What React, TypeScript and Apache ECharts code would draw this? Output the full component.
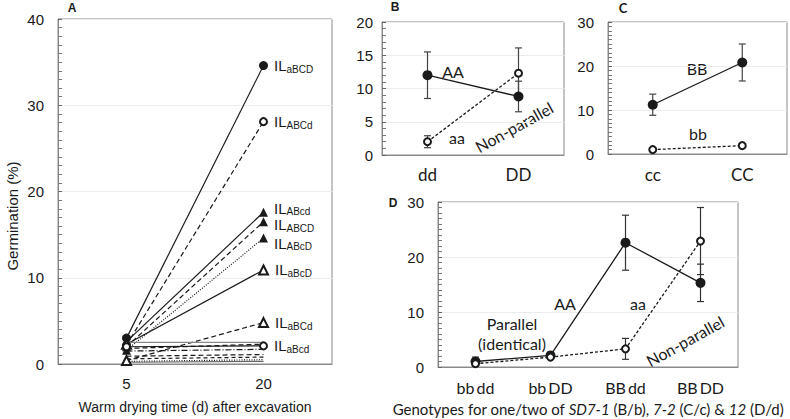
import React, { useEffect, useRef } from 'react';
import * as echarts from 'echarts';

// ---------- Panel A data (germination % at 5 and 20 d) ----------
const A_CATEGORIES = ['5', '20'];
const A_aBCD = [3.0, 34.6];
const A_ABCd = [2.2, 28.1];
const A_ABcd = [2.6, 17.6];
const A_ABCD = [2.0, 16.5];
const A_ABcD = [1.6, 14.6];
const A_aBcD = [2.3, 10.9];
const A_aBCd = [0.4, 4.8];
const A_aBcd = [2.0, 2.1];
const A_OTHER_1 = [2.5, 2.5];
const A_OTHER_2 = [1.8, 2.3];
const A_OTHER_3 = [1.5, 1.7];
const A_OTHER_4 = [0.9, 1.1];
const A_OTHER_5 = [0.6, 0.8];
const A_OTHER_6 = [0.3, 0.5];
const A_OTHER_7 = [0.2, 0.3];

// ---------- Panel B ----------
const B_CATEGORIES = ['dd', 'DD'];
const B_AA = [12.0, 8.8];
const B_AA_ERR = [3.5, 2.3];
const B_aa = [2.0, 12.3];
const B_aa_ERR = [0.9, 3.8];

// ---------- Panel C ----------
const C_CATEGORIES = ['cc', 'CC'];
const C_BB = [11.2, 20.8];
const C_BB_ERR = [2.4, 4.2];
const C_bb = [1.0, 1.9];
const C_bb_ERR = [0.2, 0.2];

// ---------- Panel D ----------
const D_CATEGORIES = ['bb dd', 'bb DD', 'BB dd', 'BB DD'];
const D_AA = [1.0, 2.1, 22.6, 15.3];
const D_AA_ERR = [0.8, 0.4, 5.0, 3.4];
const D_aa = [0.6, 1.8, 3.3, 22.9];
const D_aa_ERR = [0.3, 0.3, 1.9, 6.1];

const ARIAL = 'Liberation Sans, Arial, sans-serif';
const CAL = 'Lato, Open Sans, sans-serif';
const INK = '#1a1a1a';
const BORDER = '#8a8a8a';

const A_LINES: any[] = [
  { label: 'aBCD', data: A_aBCD, type: 'solid', symbol: 'circle', open: false, size: 9 },
  { label: 'ABCd', data: A_ABCd, type: [5, 3], symbol: 'circle', open: true, size: 7 },
  { label: 'ABcd', data: A_ABcd, type: 'solid', symbol: 'triangle', open: false, size: 9, dy: -4 },
  { label: 'ABCD', data: A_ABCD, type: [5, 3], symbol: 'triangle', open: false, size: 9, dy: 3 },
  { label: 'ABcD', data: A_ABcD, type: [1, 1.5], symbol: 'triangle', open: false, size: 9, dy: 5 },
  { label: 'aBcD', data: A_aBcD, type: 'solid', symbol: 'triangle', open: true, size: 9 },
  { label: 'aBCd', data: A_aBCd, type: [5, 3], symbol: 'triangle', open: true, size: 9 },
  { label: 'aBcd', data: A_aBcd, type: 'solid', symbol: 'circle', open: true, size: 7 },
  { label: null, data: A_OTHER_1, type: 'solid', color: '#888' },
  { label: null, data: A_OTHER_2, type: [5, 3] },
  { label: null, data: A_OTHER_3, type: [6, 2, 1, 2] },
  { label: null, data: A_OTHER_4, type: [5, 3] },
  { label: null, data: A_OTHER_5, type: [4, 3] },
  { label: null, data: A_OTHER_6, type: [1, 1.5] },
  { label: null, data: A_OTHER_7, type: 'solid', color: '#666' },
];

function yAxisCfg(idx: number, max: number, interval: number, minorSplit: number, margin: number, fontSize: number) {
  return {
    type: 'value', gridIndex: idx, min: 0, max, interval,
    axisLine: { show: true, lineStyle: { color: BORDER } },
    axisTick: { show: true, inside: true, length: 4, lineStyle: { color: '#666' } },
    minorTick: { show: true, splitNumber: minorSplit, length: 4, lineStyle: { color: '#777' } },
    splitLine: { show: true, lineStyle: { color: '#ececec' } },
    axisLabel: { fontFamily: ARIAL, fontSize, color: INK, margin },
  };
}

function xAxisCfg(idx: number, data: string[], fontFamily: string, fontSize: number, margin: number, extra: any = {}) {
  return {
    type: 'category', gridIndex: idx, data, boundaryGap: true,
    axisLine: { show: true, lineStyle: { color: BORDER } },
    axisTick: { show: false },
    splitLine: { show: false },
    axisLabel: { fontFamily, fontSize, color: INK, margin, interval: 0 },
    ...extra,
  };
}

function errorSeries(idx: number, means: number[], errs: number[], color: string) {
  return {
    type: 'custom', xAxisIndex: idx, yAxisIndex: idx, z: 1, silent: true,
    data: means.map((m, i) => [i, m - errs[i], m + errs[i]]),
    renderItem: (params: any, api: any) => {
      const lo = api.coord([api.value(0), api.value(1)]);
      const hi = api.coord([api.value(0), api.value(2)]);
      const w = 3.5;
      const style = { stroke: color, lineWidth: 1.2 };
      return {
        type: 'group',
        children: [
          { type: 'line', shape: { x1: hi[0], y1: hi[1], x2: lo[0], y2: lo[1] }, style },
          { type: 'line', shape: { x1: hi[0] - w, y1: hi[1], x2: hi[0] + w, y2: hi[1] }, style },
          { type: 'line', shape: { x1: lo[0] - w, y1: lo[1], x2: lo[0] + w, y2: lo[1] }, style },
        ],
      };
    },
  };
}

function meanSeries(idx: number, data: number[], open: boolean) {
  return {
    type: 'line', xAxisIndex: idx, yAxisIndex: idx, z: 3, data,
    symbol: 'circle', symbolSize: open ? 7 : 10, showSymbol: true,
    lineStyle: { color: INK, width: 1.3, type: open ? [3, 2] : 'solid' },
    itemStyle: open
      ? { color: '#fff', borderColor: INK, borderWidth: 2 }
      : { color: INK, borderColor: INK, borderWidth: 0 },
  };
}

function txt(text: string, x: number, y: number, font: string, rotationDeg = 0, extra: any = {}) {
  return {
    type: 'text', x, y, rotation: (rotationDeg * Math.PI) / 180, silent: true,
    style: {
      text, font, fill: INK,
      textAlign: 'center', textVerticalAlign: 'middle', align: 'center', verticalAlign: 'middle',
      ...extra,
    },
  };
}

export default function App() {
  const ref = useRef<HTMLDivElement>(null);
  useEffect(() => {
    if (!ref.current) return;
    const chart = echarts.init(ref.current, null, { renderer: 'svg' });

    const aSeries = A_LINES.map((l) => {
      const color = l.color || INK;
      const hasSym = !!l.symbol;
      const itemStyle = hasSym
        ? (l.open
          ? { color: '#fff', borderColor: INK, borderWidth: 2 }
          : { color: INK, borderColor: INK, borderWidth: 0 })
        : { color };
      return {
        type: 'line', xAxisIndex: 0, yAxisIndex: 0, z: 3,
        symbol: hasSym ? l.symbol : 'none',
        symbolSize: l.size || 0,
        lineStyle: { color, width: 1.2, type: l.type },
        itemStyle,
        data: l.data.map((v: number, i: number) =>
          i === 1 && l.label
            ? {
              value: v,
              label: {
                show: true, position: 'right', distance: 6, offset: [0, l.dy || 0],
                formatter: `{m|IL}{s|${l.label}}`,
                rich: {
                  m: { fontFamily: ARIAL, fontSize: 15, color: INK },
                  s: { fontFamily: ARIAL, fontSize: 10, color: INK, padding: [7, 0, 0, 0] },
                },
              },
            }
            : v),
      };
    });

    const dLabelFmt = (v: string) => {
      const [a, b] = v.split(' ');
      return `{p|${a}}{q|${b}}`;
    };

    const option: any = {
      animation: false,
      backgroundColor: '#fff',
      grid: [
        { left: 58, top: 19, width: 274, height: 347, show: true, borderColor: BORDER, borderWidth: 1, backgroundColor: 'transparent' },
        { left: 382, top: 22, width: 182, height: 133, show: true, borderColor: BORDER, borderWidth: 1, backgroundColor: 'transparent' },
        { left: 608, top: 22, width: 179, height: 132, show: true, borderColor: BORDER, borderWidth: 1, backgroundColor: 'transparent' },
        { left: 438, top: 202, width: 300, height: 165, show: true, borderColor: BORDER, borderWidth: 1, backgroundColor: 'transparent' },
      ],
      xAxis: [
        xAxisCfg(0, A_CATEGORIES, ARIAL, 15, 12, {
          name: 'Warm drying time (d) after excavation', nameLocation: 'middle', nameGap: 36,
          nameTextStyle: { fontFamily: ARIAL, fontSize: 14, color: INK },
        }),
        xAxisCfg(1, B_CATEGORIES, CAL, 17, 11),
        xAxisCfg(2, C_CATEGORIES, CAL, 17, 12),
        xAxisCfg(3, D_CATEGORIES, CAL, 16, 12, {
          axisLabel: {
            margin: 12, interval: 0, formatter: dLabelFmt,
            rich: {
              p: { fontFamily: CAL, fontSize: 16, color: INK },
              q: { fontFamily: CAL, fontSize: 16, color: INK, padding: [0, 0, 0, 2] },
            },
          },
          name: '{n|Genotypes for one/two of }{i|SD7-1}{n| (B/b), }{i|7-2}{n| (C/c) & }{i|12}{n| (D/d)}',
          nameLocation: 'middle', nameGap: 34,
          nameTextStyle: {
            rich: {
              n: { fontFamily: CAL, fontSize: 15, color: INK },
              i: { fontFamily: CAL, fontSize: 15, color: INK, fontStyle: 'italic' },
            },
          },
        }),
      ],
      yAxis: [
        yAxisCfg(0, 40, 10, 10, 14, 15),
        yAxisCfg(1, 20, 5, 5, 9, 15),
        yAxisCfg(2, 30, 10, 10, 14, 15),
        yAxisCfg(3, 30, 10, 10, 14, 15),
      ],
      series: [
        ...aSeries,
        errorSeries(1, B_AA, B_AA_ERR, '#444'),
        errorSeries(1, B_aa, B_aa_ERR, '#444'),
        meanSeries(1, B_AA, false),
        meanSeries(1, B_aa, true),
        errorSeries(2, C_BB, C_BB_ERR, '#444'),
        errorSeries(2, C_bb, C_bb_ERR, '#444'),
        meanSeries(2, C_BB, false),
        meanSeries(2, C_bb, true),
        errorSeries(3, D_AA, D_AA_ERR, '#333'),
        errorSeries(3, D_aa, D_aa_ERR, '#333'),
        meanSeries(3, D_AA, false),
        meanSeries(3, D_aa, true),
      ],
      graphic: [
        txt('A', 72, 8, `bold 12px ${ARIAL}`),
        txt('Germination (%)', 12, 216, `15px ${ARIAL}`, 90),
        txt('B', 395, 7, `bold 12px ${ARIAL}`),
        txt('AA', 453, 71, `16px ${CAL}`),
        txt('aa', 457, 137, `16px ${CAL}`),
        txt('Non-parallel', 514, 127, `16px ${CAL}`, 29),
        txt('C', 623, 8, `bold 13px ${CAL}`),
        txt('BB', 697, 68, `16px ${CAL}`),
        txt('bb', 698, 133, `16px ${CAL}`),
        txt('D', 393, 203, `bold 12px ${ARIAL}`),
        txt('AA', 565, 303, `16px ${CAL}`),
        txt('aa', 638, 303, `16px ${CAL}`),
        txt('Parallel', 512, 323, `16px ${CAL}`),
        txt('(identical)', 512, 343, `16px ${CAL}`),
        txt('Non-parallel', 685, 341, `16px ${CAL}`, 29),
      ],
    };
    chart.setOption(option);
    return () => chart.dispose();
  }, []);
  return (
    <div
      ref={ref}
      style={{ position: 'absolute', left: 0, top: 0, width: 790, height: 419, background: '#fff' }}
    />
  );
}
